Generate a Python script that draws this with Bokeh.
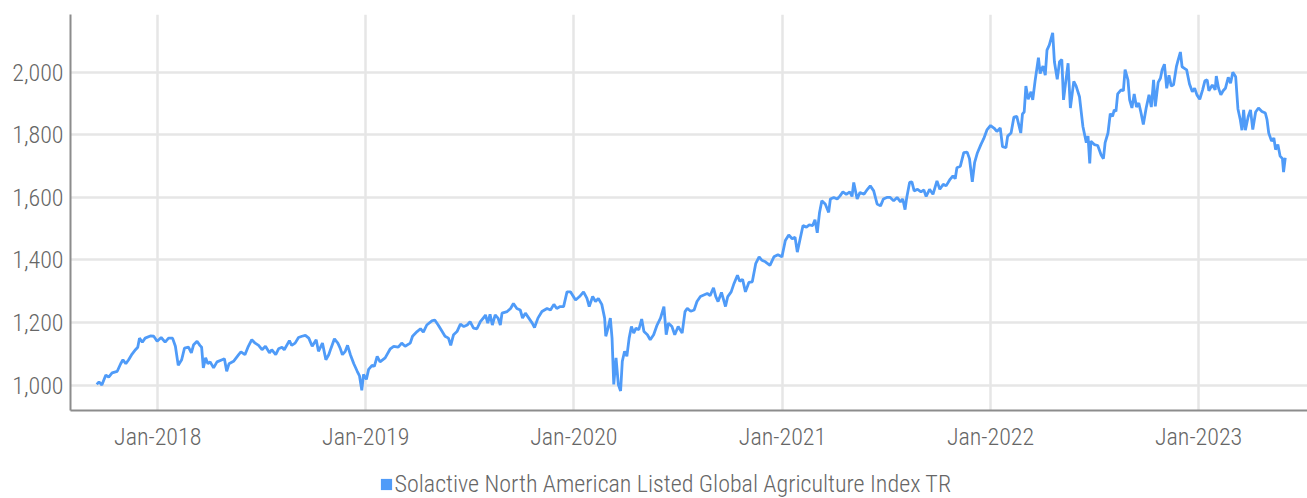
import pandas as pd
from bokeh.plotting import figure
from bokeh.layouts import column
from bokeh.models import (ColumnDataSource, Range1d, FixedTicker, NumeralTickFormatter,
                          DatetimeTickFormatter, Legend, LegendItem)
from bokeh.embed import file_html
from bokeh.resources import INLINE

series_name = "Solactive North American Listed Global Agriculture Index TR"

dates = [
    "2017-09-16", "2017-09-20", "2017-09-25", "2017-10-02", "2017-10-07", "2017-10-13", "2017-10-22", "2017-10-28",
    "2017-11-01", "2017-11-06", "2017-11-11", "2017-11-17", "2017-11-23", "2017-11-27", "2017-11-30", "2017-12-05",
    "2017-12-10", "2017-12-19", "2017-12-25", "2017-12-31", "2018-01-07", "2018-01-14", "2018-01-20", "2018-01-27",
    "2018-02-01", "2018-02-06", "2018-02-12", "2018-02-17", "2018-02-24", "2018-03-01", "2018-03-05", "2018-03-11",
    "2018-03-16", "2018-03-19", "2018-03-22", "2018-03-26", "2018-03-30", "2018-04-03", "2018-04-09", "2018-04-15",
    "2018-04-24", "2018-04-28", "2018-05-02", "2018-05-06", "2018-05-14", "2018-05-23", "2018-05-27", "2018-06-03",
    "2018-06-09", "2018-06-15", "2018-06-21", "2018-06-27", "2018-07-03", "2018-07-09", "2018-07-16", "2018-07-20",
    "2018-07-27", "2018-08-01", "2018-08-07", "2018-08-11", "2018-08-20", "2018-08-24", "2018-08-30", "2018-09-05",
    "2018-09-11", "2018-09-17", "2018-09-23", "2018-09-29", "2018-10-06", "2018-10-10", "2018-10-17", "2018-10-23",
    "2018-10-28", "2018-11-01", "2018-11-07", "2018-11-13", "2018-11-17", "2018-11-21", "2018-11-26", "2018-11-30",
    "2018-12-05", "2018-12-11", "2018-12-17", "2018-12-21", "2018-12-25", "2018-12-28", "2019-01-02", "2019-01-06",
    "2019-01-12", "2019-01-16", "2019-01-21", "2019-01-26", "2019-02-04", "2019-02-13", "2019-02-19", "2019-02-27",
    "2019-03-05", "2019-03-11", "2019-03-20", "2019-03-24", "2019-04-01", "2019-04-07", "2019-04-12", "2019-04-18",
    "2019-04-27", "2019-05-02", "2019-05-08", "2019-05-15", "2019-05-20", "2019-05-26", "2019-05-30", "2019-06-04",
    "2019-06-10", "2019-06-16", "2019-06-22", "2019-06-28", "2019-07-03", "2019-07-09", "2019-07-15", "2019-07-21",
    "2019-07-27", "2019-07-30", "2019-08-03", "2019-08-07", "2019-08-11", "2019-08-16", "2019-08-21", "2019-08-25",
    "2019-08-28", "2019-09-06", "2019-09-12", "2019-09-17", "2019-09-23", "2019-09-29", "2019-10-03", "2019-10-08",
    "2019-10-14", "2019-10-20", "2019-10-24", "2019-10-30", "2019-11-06", "2019-11-15", "2019-11-21", "2019-11-27",
    "2019-12-02", "2019-12-08", "2019-12-14", "2019-12-20", "2019-12-26", "2020-01-04", "2020-01-11", "2020-01-18",
    "2020-01-24", "2020-01-28", "2020-02-03", "2020-02-08", "2020-02-13", "2020-02-19", "2020-02-24", "2020-02-26",
    "2020-03-01", "2020-03-05", "2020-03-08", "2020-03-11", "2020-03-15", "2020-03-19", "2020-03-23", "2020-03-26",
    "2020-03-30", "2020-04-03", "2020-04-07", "2020-04-11", "2020-04-15", "2020-04-19", "2020-04-24", "2020-04-29",
    "2020-05-03", "2020-05-09", "2020-05-14", "2020-05-20", "2020-05-26", "2020-06-01", "2020-06-07", "2020-06-11",
    "2020-06-15", "2020-06-21", "2020-06-26", "2020-07-02", "2020-07-09", "2020-07-14", "2020-07-18", "2020-07-24",
    "2020-07-30", "2020-08-04", "2020-08-10", "2020-08-16", "2020-08-22", "2020-08-27", "2020-09-02", "2020-09-06",
    "2020-09-10", "2020-09-16", "2020-09-19", "2020-09-23", "2020-09-27", "2020-10-03", "2020-10-08", "2020-10-14",
    "2020-10-18", "2020-10-23", "2020-10-28", "2020-11-03", "2020-11-09", "2020-11-15", "2020-11-21", "2020-11-26",
    "2020-12-02", "2020-12-10", "2020-12-17", "2020-12-24", "2020-12-31", "2021-01-06", "2021-01-12", "2021-01-18",
    "2021-01-23", "2021-01-27", "2021-02-01", "2021-02-06", "2021-02-12", "2021-02-17", "2021-02-23", "2021-02-27",
    "2021-03-03", "2021-03-07", "2021-03-11", "2021-03-17", "2021-03-23", "2021-03-26", "2021-04-01", "2021-04-07",
    "2021-04-12", "2021-04-17", "2021-04-23", "2021-04-29", "2021-05-03", "2021-05-06", "2021-05-12", "2021-05-17",
    "2021-05-24", "2021-05-30", "2021-06-04", "2021-06-10", "2021-06-16", "2021-06-22", "2021-06-27", "2021-07-03",
    "2021-07-09", "2021-07-15", "2021-07-21", "2021-07-27", "2021-07-31", "2021-08-04", "2021-08-07", "2021-08-12",
    "2021-08-16", "2021-08-20", "2021-08-26", "2021-09-01", "2021-09-06", "2021-09-10", "2021-09-16", "2021-09-22",
    "2021-09-29", "2021-10-04", "2021-10-10", "2021-10-15", "2021-10-22", "2021-10-27", "2021-10-31", "2021-11-03",
    "2021-11-09", "2021-11-15", "2021-11-21", "2021-11-25", "2021-11-30", "2021-12-04", "2021-12-09", "2021-12-15",
    "2021-12-20", "2021-12-26", "2022-01-01", "2022-01-07", "2022-01-12", "2022-01-18", "2022-01-22", "2022-01-28",
    "2022-01-31", "2022-02-06", "2022-02-11", "2022-02-16", "2022-02-23", "2022-02-26", "2022-03-01", "2022-03-04",
    "2022-03-08", "2022-03-13", "2022-03-16", "2022-03-20", "2022-03-26", "2022-03-29", "2022-04-03", "2022-04-07",
    "2022-04-10", "2022-04-14", "2022-04-20", "2022-04-23", "2022-04-28", "2022-05-02", "2022-05-06", "2022-05-09",
    "2022-05-13", "2022-05-17", "2022-05-21", "2022-05-27", "2022-05-31", "2022-06-06", "2022-06-12", "2022-06-18",
    "2022-06-21", "2022-06-24", "2022-06-26", "2022-07-02", "2022-07-08", "2022-07-14", "2022-07-18", "2022-07-21",
    "2022-07-26", "2022-07-30", "2022-08-03", "2022-08-06", "2022-08-09", "2022-08-12", "2022-08-18", "2022-08-22",
    "2022-08-25", "2022-08-30", "2022-09-02", "2022-09-06", "2022-09-10", "2022-09-14", "2022-09-18", "2022-09-22",
    "2022-09-26", "2022-10-01", "2022-10-06", "2022-10-10", "2022-10-14", "2022-10-17", "2022-10-22", "2022-10-26",
    "2022-10-29", "2022-11-02", "2022-11-06", "2022-11-10", "2022-11-14", "2022-11-18", "2022-11-23", "2022-11-26",
    "2022-11-30", "2022-12-03", "2022-12-07", "2022-12-11", "2022-12-16", "2022-12-21", "2022-12-25", "2022-12-29",
    "2023-01-03", "2023-01-08", "2023-01-12", "2023-01-16", "2023-01-19", "2023-01-25", "2023-01-30", "2023-02-01",
    "2023-02-05", "2023-02-09", "2023-02-13", "2023-02-17", "2023-02-22", "2023-02-26", "2023-03-02", "2023-03-07",
    "2023-03-11", "2023-03-15", "2023-03-18", "2023-03-21", "2023-03-24", "2023-03-29", "2023-04-02", "2023-04-06",
    "2023-04-11", "2023-04-16", "2023-04-22", "2023-04-28", "2023-05-01", "2023-05-04", "2023-05-09", "2023-05-13",
    "2023-05-16", "2023-05-20", "2023-05-24", "2023-05-28", "2023-05-30", "2023-06-02",
]

values = [
    1002, 1010, 1000, 1032, 1025, 1039, 1044, 1068,
    1081, 1068, 1081, 1099, 1113, 1121, 1150, 1137,
    1150, 1157, 1156, 1140, 1152, 1137, 1150, 1150,
    1124, 1063, 1081, 1118, 1121, 1103, 1129, 1140,
    1127, 1121, 1055, 1087, 1068, 1074, 1055, 1074,
    1081, 1084, 1044, 1068, 1076, 1097, 1106, 1097,
    1124, 1145, 1134, 1127, 1113, 1124, 1103, 1113,
    1097, 1116, 1121, 1113, 1142, 1127, 1134, 1152,
    1156, 1159, 1150, 1124, 1145, 1108, 1134, 1081,
    1097, 1118, 1148, 1134, 1118, 1097, 1108, 1127,
    1097, 1068, 1044, 1029, 983, 1034, 1018, 1050,
    1063, 1060, 1092, 1074, 1087, 1116, 1124, 1121,
    1134, 1124, 1134, 1156, 1171, 1180, 1169, 1192,
    1205, 1208, 1192, 1171, 1156, 1150, 1127, 1161,
    1171, 1195, 1187, 1192, 1203, 1182, 1180, 1203,
    1216, 1224, 1198, 1226, 1192, 1224, 1214, 1192,
    1230, 1235, 1245, 1261, 1245, 1240, 1214, 1230,
    1214, 1198, 1184, 1214, 1235, 1245, 1240, 1258,
    1245, 1251, 1251, 1298, 1298, 1272, 1283, 1298,
    1277, 1251, 1283, 1267, 1277, 1258, 1214, 1156,
    1182, 1214, 1150, 1002, 1087, 1002, 981, 1076,
    1108, 1092, 1150, 1187, 1166, 1182, 1177, 1211,
    1171, 1161, 1145, 1161, 1192, 1214, 1251, 1161,
    1198, 1187, 1161, 1187, 1166, 1235, 1245, 1236,
    1240, 1267, 1283, 1288, 1293, 1286, 1311, 1283,
    1267, 1296, 1277, 1251, 1283, 1298, 1325, 1351,
    1332, 1338, 1298, 1328, 1330, 1388, 1410, 1399,
    1394, 1383, 1410, 1417, 1410, 1462, 1480, 1468,
    1473, 1425, 1468, 1510, 1505, 1512, 1510, 1529,
    1487, 1552, 1589, 1579, 1552, 1595, 1600, 1595,
    1605, 1618, 1610, 1618, 1603, 1648, 1595, 1616,
    1610, 1626, 1637, 1621, 1579, 1573, 1595, 1600,
    1600, 1589, 1600, 1586, 1595, 1561, 1600, 1648,
    1650, 1621, 1626, 1618, 1624, 1603, 1626, 1610,
    1653, 1626, 1642, 1637, 1658, 1669, 1660, 1695,
    1700, 1743, 1745, 1724, 1650, 1711, 1743, 1769,
    1788, 1817, 1830, 1822, 1811, 1822, 1762, 1759,
    1796, 1806, 1857, 1859, 1806, 1867, 1873, 1956,
    1914, 1938, 1912, 1971, 2047, 1996, 2020, 1991,
    2071, 2087, 2126, 2034, 1978, 2034, 2041, 1912,
    1971, 2029, 1886, 1971, 1957, 1922, 1827, 1775,
    1796, 1709, 1780, 1769, 1766, 1736, 1724, 1775,
    1806, 1868, 1859, 1880, 1875, 1931, 1944, 1941,
    2009, 1976, 1912, 1886, 1931, 1889, 1902, 1870,
    1833, 1886, 1928, 1889, 1976, 1891, 1968, 1981,
    2008, 2026, 1949, 1991, 1956, 1960, 2018, 2039,
    2065, 2018, 2013, 2008, 1963, 1938, 1949, 1928,
    1914, 1944, 1973, 1976, 1941, 1960, 1944, 1988,
    1949, 1928, 1941, 1949, 1984, 1965, 2000, 1986,
    1883, 1849, 1815, 1880, 1815, 1859, 1880, 1817,
    1873, 1886, 1875, 1870, 1849, 1806, 1780, 1790,
    1753, 1769, 1732, 1724, 1681, 1727,
]

year_ticks = ["2018-01-01", "2019-01-01", "2020-01-01", "2021-01-01", "2022-01-01", "2023-01-01"]
y_ticks = [1000, 1200, 1400, 1600, 1800, 2000]

FONT = "'Roboto Condensed Light', 'Roboto Condensed', 'DejaVu Sans Condensed', 'Liberation Sans Narrow', Roboto, sans-serif"
FSIZE = "24px"
TXT = "#666666"
BLUE = "#4f9bf8"
GRID = "#e6e6e6"

src = ColumnDataSource(dict(date=pd.to_datetime(dates), value=values))

p = figure(width=1307, height=453, x_axis_type="datetime",
           x_range=Range1d(pd.Timestamp("2017-08-01"), pd.Timestamp("2023-07-11")),
           y_range=Range1d(918.6, 2185),
           output_backend="svg", toolbar_location=None,
           min_border_left=70, min_border_right=0, min_border_top=14, min_border_bottom=40)
p.outline_line_color = None
p.background_fill_color = "white"
p.border_fill_color = "white"

p.line("date", "value", source=src, line_color=BLUE, line_width=2.8)

tick_ms = [pd.Timestamp(d).value // 10**6 for d in year_ticks]
p.xaxis.ticker = FixedTicker(ticks=tick_ms)
p.xaxis.formatter = DatetimeTickFormatter(years="%b-%Y", months="%b-%Y", days="%b-%Y")
p.yaxis.ticker = FixedTicker(ticks=y_ticks)
p.yaxis.formatter = NumeralTickFormatter(format="0,0")

for ax in (p.xaxis[0], p.yaxis[0]):
    ax.axis_line_color = "#8c8c8c"
    ax.axis_line_width = 2
    ax.major_tick_line_color = None
    ax.minor_tick_line_color = None
    ax.major_tick_out = 0
    ax.major_tick_in = 0
    ax.major_label_text_font = FONT
    ax.major_label_text_font_size = FSIZE
    ax.major_label_text_color = TXT
p.xaxis.major_label_standoff = 12
p.yaxis.major_label_standoff = 7

p.xgrid.grid_line_color = GRID
p.xgrid.grid_line_width = 2.5
p.ygrid.grid_line_color = GRID
p.ygrid.grid_line_width = 2.5

# legend strip below the chart (its frame is aligned with the chart frame by the column layout)
lg = figure(width=1307, height=45, x_range=Range1d(0, 1), y_range=Range1d(0, 1),
            output_backend="svg", toolbar_location=None,
            x_axis_location=None, y_axis_location=None,
            min_border_left=0, min_border_right=0, min_border_top=0, min_border_bottom=0)
lg.outline_line_color = None
lg.xgrid.visible = False
lg.ygrid.visible = False
# swatch renderer shares the series source; its zero-size quads lie outside this strip's ranges
swatch = lg.quad(left="date", right="date", top="value", bottom="value", source=src,
                 fill_color=BLUE, line_color=None)
legend = Legend(items=[LegendItem(label=series_name, renderers=[swatch])],
                location=(308.6, 0), orientation="horizontal",
                label_text_font=FONT, label_text_font_size=FSIZE, label_text_color=TXT,
                glyph_width=14, glyph_height=14, label_standoff=2,
                padding=0, margin=0, spacing=0, border_line_color=None,
                background_fill_alpha=0)
lg.add_layout(legend)

layout = column(p, lg, spacing=0)
open("out.html", "w").write(file_html(layout, INLINE))
